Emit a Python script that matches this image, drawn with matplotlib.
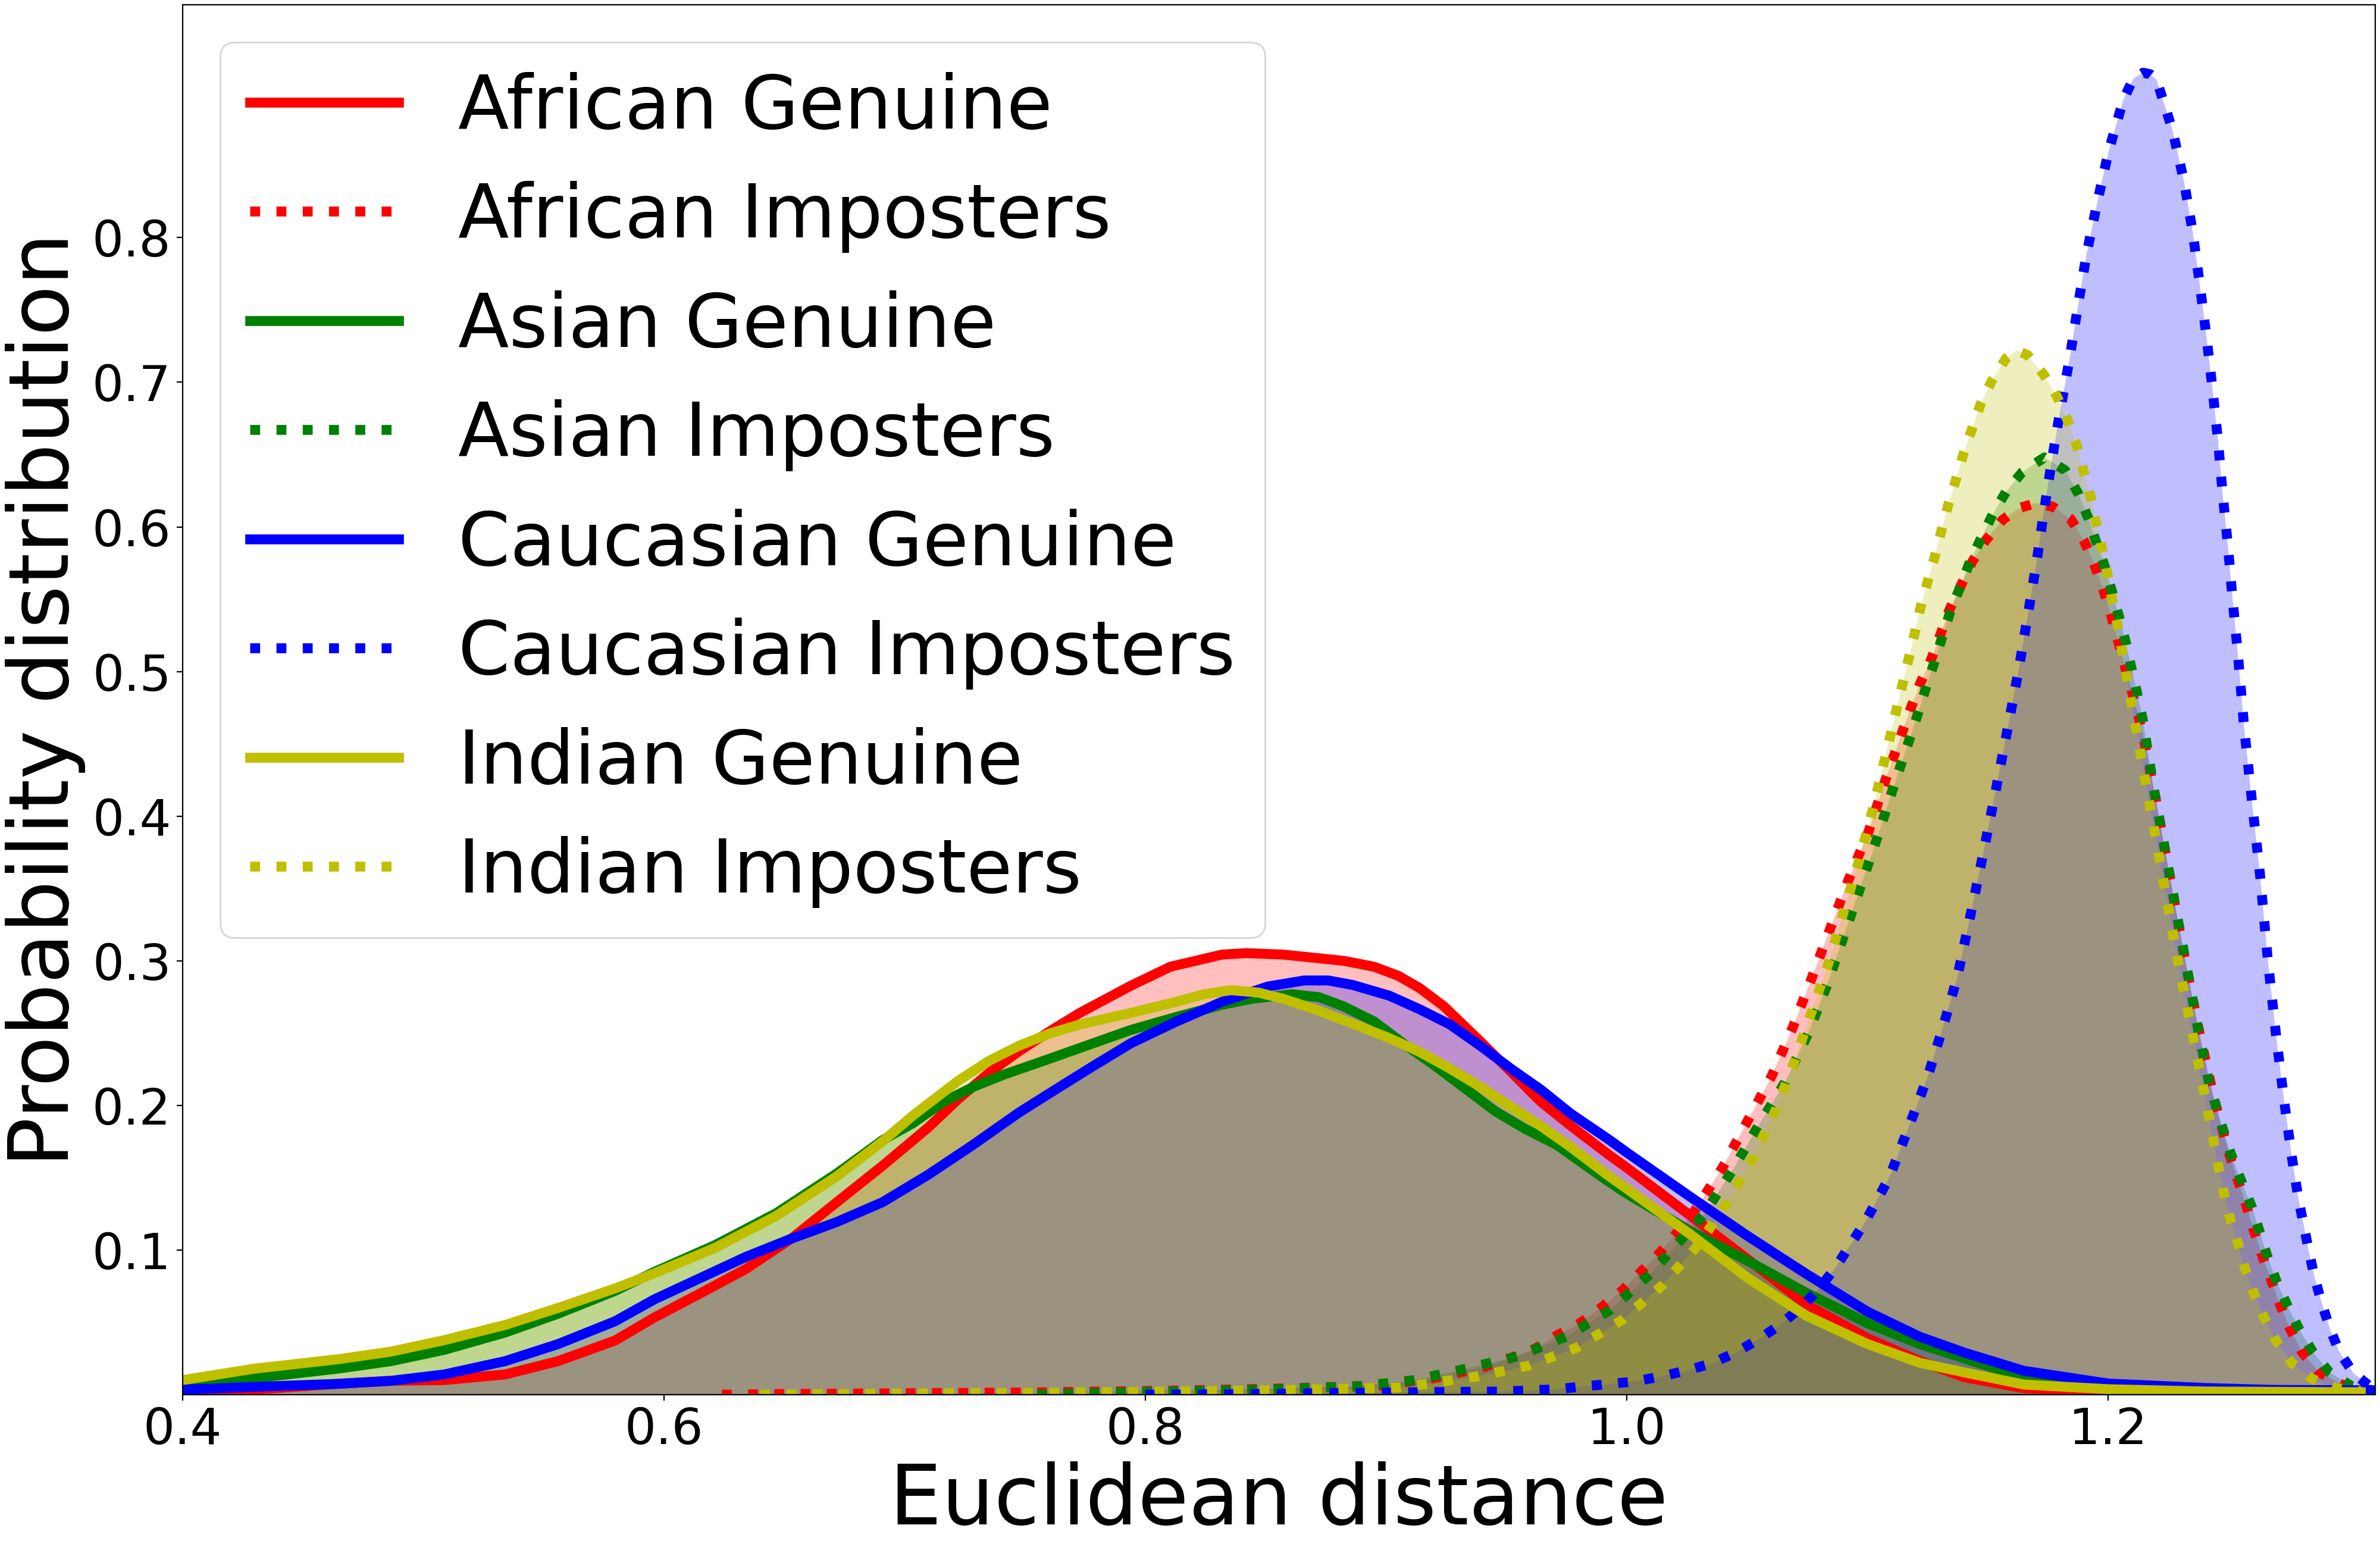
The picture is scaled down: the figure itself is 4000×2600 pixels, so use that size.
import numpy as np
import matplotlib
matplotlib.use('Agg')
import matplotlib.pyplot as plt

# African genuine
ag_x = [0.40, 0.4298, 0.4645, 0.4866, 0.5087, 0.534, 0.556, 0.5797, 0.5961, 0.615, 0.634, 0.6529, 0.6718,
        0.6908, 0.7097, 0.7223, 0.735, 0.7475, 0.7602, 0.7728, 0.794, 0.8104, 0.8319, 0.842, 0.8571, 0.8823,
        0.895, 0.9051, 0.9139, 0.924, 0.9391, 0.9518, 0.9644, 0.977, 0.9919, 1.0, 1.0271, 1.05, 1.0745, 1.10,
        1.1218, 1.1404, 1.165, 1.20, 1.25, 1.31]
ag_y = [0.0009, 0.0035, 0.0075, 0.0096, 0.0101, 0.014, 0.0232, 0.0375, 0.0535, 0.070, 0.0869, 0.1079, 0.1331,
        0.1583, 0.1846, 0.2045, 0.2225, 0.2375, 0.2512, 0.264, 0.2828, 0.2959, 0.3043, 0.3053, 0.3043, 0.300,
        0.2959, 0.2896, 0.2812, 0.2686, 0.2444, 0.2234, 0.2024, 0.1856, 0.1667, 0.157, 0.123, 0.094, 0.0626, 0.039,
        0.0233, 0.012, 0.0045, 0.0015, 0.0006, 0.0002]

# African imposters
ai_x = [0.624, 0.65, 0.70, 0.75, 0.80, 0.85, 0.8977, 0.9198, 0.9411, 0.9514, 0.962, 0.9708, 0.9806, 0.9897,
        0.998, 1.0054, 1.0137, 1.0271, 1.0398, 1.05, 1.0603, 1.069, 1.0768, 1.0844, 1.0921, 1.1005, 1.1075,
        1.1145, 1.118, 1.122, 1.1264, 1.1302, 1.134, 1.1387, 1.1434, 1.1491, 1.1561, 1.163, 1.1699, 1.177,
        1.1845, 1.1902, 1.1945, 1.198, 1.2012, 1.204, 1.2068, 1.2097, 1.2125, 1.215, 1.22, 1.226, 1.232,
        1.238, 1.244, 1.25, 1.2573, 1.2606, 1.264, 1.2677, 1.2715, 1.2756, 1.2805, 1.2876, 1.2971, 1.307, 1.31]
ai_y = [0.0, 0.0005, 0.001, 0.0015, 0.0025, 0.004, 0.0062, 0.0114, 0.0193, 0.0251, 0.0319, 0.0408, 0.0495, 0.0605,
        0.0718, 0.0841, 0.098, 0.1243, 0.157, 0.1886, 0.2206, 0.254, 0.2878, 0.3217, 0.3558, 0.3894, 0.425,
        0.4583, 0.4746, 0.492, 0.508, 0.525, 0.5424, 0.559, 0.5755, 0.5906, 0.6048, 0.613, 0.6164, 0.614,
        0.6054, 0.5896, 0.5729, 0.5566, 0.5392, 0.5219, 0.5046, 0.4873, 0.4699, 0.4526, 0.41, 0.355, 0.30,
        0.25, 0.205, 0.168, 0.1314, 0.1133, 0.0962, 0.0794, 0.062, 0.0455, 0.0295, 0.0156, 0.007, 0.0038, 0.003]

# Asian genuine
sg_x = [0.40, 0.4298, 0.4645, 0.4866, 0.5087, 0.534, 0.556, 0.5797, 0.5961, 0.6213, 0.6466, 0.6718, 0.6908,
        0.7034, 0.716, 0.7286, 0.7412, 0.7539, 0.7665, 0.794, 0.8129, 0.8319, 0.8445, 0.8609, 0.8722, 0.8823,
        0.895, 0.9076, 0.9202, 0.9328, 0.9454, 0.9581, 0.9707, 0.9919, 1.0, 1.0271, 1.05, 1.0745, 1.10, 1.1218,
        1.1404, 1.165, 1.20, 1.25, 1.31]
sg_y = [0.0049, 0.0114, 0.018, 0.0232, 0.031, 0.043, 0.056, 0.0718, 0.0850, 0.1035, 0.1255, 0.153, 0.176,
        0.1877, 0.2024, 0.2129, 0.2213, 0.2286, 0.236, 0.2522, 0.2612, 0.2696, 0.2738, 0.2769, 0.2748, 0.2685,
        0.2581, 0.2423, 0.2276, 0.2118, 0.196, 0.1835, 0.1729, 0.148, 0.139, 0.1125, 0.0928, 0.0705, 0.0495, 0.035,
        0.025, 0.012, 0.0058, 0.003, 0.0015]

# Asian imposters
si_x = [0.755, 0.80, 0.85, 0.89, 0.912, 0.9332, 0.9545, 0.975, 0.9932, 1.0098, 1.0319, 1.0437, 1.0547, 1.0658,
        1.0753, 1.0832, 1.0902, 1.0973, 1.1044, 1.111, 1.1179, 1.1213, 1.1245, 1.1279, 1.1311, 1.1345, 1.1387,
        1.1425, 1.1472, 1.152, 1.1576, 1.1643, 1.1735, 1.1822, 1.1875, 1.1917, 1.1951, 1.1987, 1.2017, 1.2046,
        1.2074, 1.2097, 1.2121, 1.2144, 1.2189, 1.2233, 1.2288, 1.2333, 1.2377, 1.2421, 1.2465, 1.2509, 1.2553,
        1.2597, 1.263, 1.2663, 1.2701, 1.2746, 1.2794, 1.2851, 1.2919, 1.3011, 1.31]
si_y = [0.0, 0.002, 0.0035, 0.006, 0.0101, 0.018, 0.0264, 0.0403, 0.0587, 0.0836, 0.1243, 0.1545, 0.186, 0.2161,
        0.2495, 0.283, 0.3172, 0.3519, 0.3867, 0.421, 0.4551, 0.4725, 0.4898, 0.5068, 0.524, 0.5417, 0.559,
        0.5755, 0.5921, 0.6085, 0.6243, 0.6378, 0.648, 0.6391, 0.6233, 0.6063, 0.5893, 0.5723, 0.555, 0.5376,
        0.52, 0.5024, 0.4847, 0.4668, 0.42, 0.38, 0.33, 0.29, 0.25, 0.215, 0.19, 0.167, 0.148,
        0.1298, 0.1125, 0.0951, 0.0778, 0.0613, 0.0452, 0.0295, 0.0156, 0.006, 0.003]

# Caucasian genuine
cg_x = [0.40, 0.4298, 0.4645, 0.4866, 0.5087, 0.534, 0.556, 0.5797, 0.5961, 0.615, 0.634, 0.6529, 0.6718,
        0.6908, 0.7097, 0.7286, 0.7475, 0.7665, 0.7791, 0.794, 0.8129, 0.8319, 0.8508, 0.866, 0.876, 0.8861,
        0.9013, 0.9139, 0.9265, 0.9391, 0.9518, 0.9644, 0.977, 0.9919, 1.0, 1.0271, 1.05, 1.0745, 1.10, 1.1218,
        1.1404, 1.165, 1.20, 1.2408, 1.2692, 1.31]
cg_y = [0.0035, 0.0054, 0.0075, 0.0096, 0.014, 0.0232, 0.035, 0.0508, 0.066, 0.0806, 0.0953, 0.1079, 0.1194,
        0.1331, 0.152, 0.173, 0.1951, 0.215, 0.228, 0.243, 0.258, 0.2717, 0.2822, 0.2864, 0.2864, 0.2833,
        0.2759, 0.2665, 0.256, 0.2413, 0.2255, 0.2108, 0.194, 0.1772, 0.1675, 0.136, 0.110, 0.0836, 0.0574, 0.040,
        0.029, 0.0165, 0.0077, 0.0046, 0.0033, 0.003]

# Caucasian imposters
ci_x = [0.80, 0.85, 0.90, 0.9495, 0.9713, 0.9822, 0.993, 1.004, 1.0148, 1.0255, 1.0357, 1.0456, 1.055, 1.064,
        1.0726, 1.0802, 1.0868, 1.0989, 1.1092, 1.1171, 1.125, 1.1313, 1.1373, 1.142, 1.147, 1.153, 1.1589,
        1.1629, 1.1665, 1.1701, 1.1733, 1.1766, 1.1802, 1.1841, 1.1875, 1.1911, 1.1955, 1.2002, 1.2063, 1.2105,
        1.2145, 1.2175, 1.2201, 1.2267, 1.2315, 1.2352, 1.2381, 1.2409, 1.2434, 1.2457, 1.2476, 1.2498, 1.2517,
        1.2538, 1.2557, 1.2566, 1.2598, 1.2631, 1.2664, 1.2697, 1.273, 1.2763, 1.2791, 1.2813, 1.2834, 1.2857,
        1.2886, 1.2919, 1.296, 1.302, 1.3097]
ci_y = [0.0, 0.0005, 0.0015, 0.0022, 0.0038, 0.0058, 0.0074, 0.0093, 0.0128, 0.0169, 0.0219, 0.0295, 0.0384, 0.0487,
        0.0605, 0.0739, 0.088, 0.119, 0.1505, 0.1847, 0.2196, 0.2537, 0.2884, 0.325, 0.365, 0.415, 0.4662,
        0.5017, 0.5377, 0.5736, 0.6101, 0.6457, 0.6813, 0.7172, 0.7531, 0.789, 0.8243, 0.8596, 0.8952, 0.910,
        0.914, 0.913, 0.9094, 0.8747, 0.8394, 0.8035, 0.7676, 0.7314, 0.6952, 0.6592, 0.623, 0.5868, 0.5506,
        0.5143, 0.4781, 0.4602, 0.41, 0.36, 0.30, 0.25, 0.205, 0.165, 0.1353, 0.1172, 0.0994, 0.0817,
        0.0644, 0.047, 0.0298, 0.0148, 0.0046]

# Indian genuine
ig_x = [0.40, 0.4298, 0.4645, 0.4866, 0.5087, 0.534, 0.556, 0.5797, 0.5961, 0.6213, 0.6466, 0.6718, 0.6908,
        0.7034, 0.7223, 0.735, 0.7475, 0.7602, 0.7728, 0.794, 0.8129, 0.8243, 0.8356, 0.847, 0.8571, 0.8722,
        0.8887, 0.9013, 0.9139, 0.9265, 0.9391, 0.9518, 0.9644, 0.977, 0.9919, 1.0, 1.0271, 1.05, 1.0745, 1.10,
        1.1218, 1.1404, 1.165, 1.20, 1.2408, 1.305]
ig_y = [0.0101, 0.018, 0.0245, 0.0298, 0.0377, 0.0482, 0.060, 0.0735, 0.0840, 0.1016, 0.1236, 0.151, 0.1751,
        0.193, 0.2171, 0.2308, 0.2413, 0.2497, 0.256, 0.264, 0.2717, 0.2769, 0.2797, 0.278, 0.2738, 0.2654,
        0.2549, 0.2465, 0.2371, 0.2255, 0.2129, 0.1992, 0.1856, 0.1709, 0.152, 0.1425, 0.110, 0.081, 0.0547, 0.035,
        0.022, 0.0154, 0.007, 0.0038, 0.0022, 0.0017]

# Indian imposters
ii_x = [0.64, 0.70, 0.75, 0.80, 0.85, 0.9056, 0.9167, 0.938, 0.9593, 0.979, 0.998, 1.0145, 1.0303, 1.0413, 1.0524,
        1.0618, 1.0697, 1.0768, 1.0839, 1.0902, 1.0966, 1.1021, 1.1097, 1.1122, 1.1147, 1.1173, 1.1198, 1.1222,
        1.1251, 1.1281, 1.1308, 1.1336, 1.1368, 1.1398, 1.1434, 1.147, 1.1516, 1.1576, 1.162, 1.1665, 1.1733,
        1.1788, 1.1832, 1.187, 1.1898, 1.1927, 1.195, 1.1974, 1.1997, 1.2017, 1.204, 1.2059, 1.2078, 1.2097,
        1.2116, 1.217, 1.223, 1.229, 1.235, 1.241, 1.245, 1.2481, 1.2507, 1.254, 1.2569, 1.2606, 1.2649, 1.2699,
        1.2763, 1.2848, 1.2947, 1.3052]
ii_y = [0.0, 0.0008, 0.0012, 0.002, 0.003, 0.0049, 0.0075, 0.0127, 0.0201, 0.0324, 0.0516, 0.0752, 0.1046, 0.1322, 0.1636,
        0.1965, 0.2306, 0.2647, 0.2988, 0.3343, 0.3697, 0.4038, 0.4567, 0.4746, 0.492, 0.51, 0.5276, 0.5452,
        0.5628, 0.5802, 0.5978, 0.6155, 0.6328, 0.65, 0.6674, 0.6848, 0.7008, 0.7166, 0.722, 0.7188, 0.7052,
        0.6901, 0.6737, 0.6564, 0.6385, 0.6211, 0.6032, 0.5855, 0.5676, 0.5496, 0.5317, 0.5137, 0.4958, 0.4778,
        0.4605, 0.41, 0.355, 0.30, 0.25, 0.20, 0.165, 0.1392, 0.1219, 0.1043, 0.0873, 0.07, 0.0531, 0.0369,
        0.0219, 0.0109, 0.0046, 0.0022]

curves = [
    (ag_x, ag_y, 'r', '-', "African Genuine"),
    (ai_x, ai_y, 'r', ':', "African Imposters"),
    (sg_x, sg_y, 'g', '-', "Asian Genuine"),
    (si_x, si_y, 'g', ':', "Asian Imposters"),
    (cg_x, cg_y, 'b', '-', "Caucasian Genuine"),
    (ci_x, ci_y, 'b', ':', "Caucasian Imposters"),
    (ig_x, ig_y, 'y', '-', "Indian Genuine"),
    (ii_x, ii_y, 'y', ':', "Indian Imposters"),
]

fig = plt.figure(figsize=(20, 13), dpi=200)
ax = fig.add_axes([0.07675, 0.09846, 0.92125, 0.89846])

for xs, ys, c, ls, lab in curves:
    ax.plot(xs, ys, color=c, linestyle=ls, linewidth=6, label=lab)
    ax.fill_between(xs, 0, ys, facecolor=c, alpha=0.25)

ax.set_xlim(0.4, 1.311)
ax.set_ylim(0, 0.961)
ax.set_xticks([0.4, 0.6, 0.8, 1.0, 1.2])
ax.set_yticks([0.1, 0.2, 0.3, 0.4, 0.5, 0.6, 0.7, 0.8])
ax.tick_params(labelsize=30)
ax.set_xlabel("Euclidean distance", fontsize=50)
ax.set_ylabel("Probability distribution", fontsize=50)
ax.legend(loc='upper left', fontsize=45)

fig.savefig("out.png", dpi=200)
